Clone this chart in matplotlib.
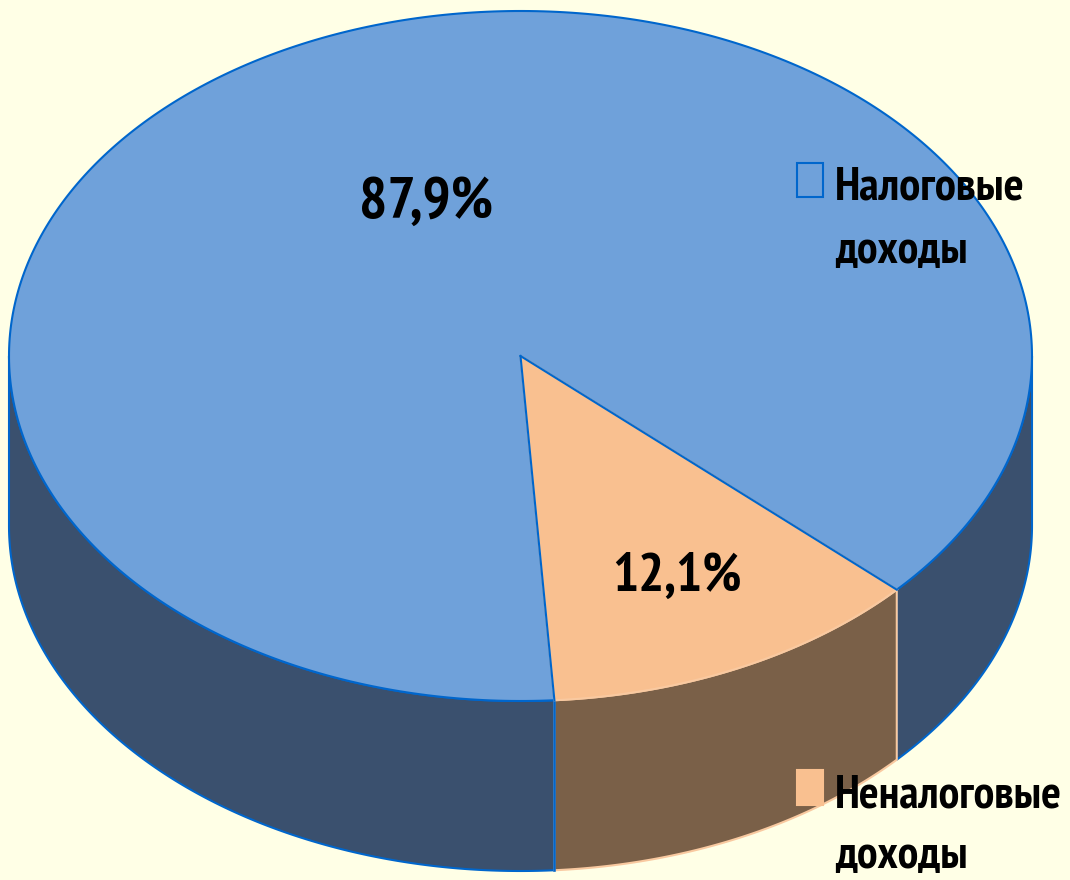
import numpy as np
import matplotlib.pyplot as plt
from matplotlib import font_manager
from matplotlib.ft2font import FT2Font
from matplotlib.patches import Polygon, Rectangle

# data
categories = [['Налоговые', 'доходы'], ['Неналоговые', 'доходы']]
values = [87.9, 12.1]
labels = ['87,9%', '12,1%']

top_colors = ['#6FA1DA', '#F9C090']
side_colors = ['#3A506E', '#7A6048']
edge_colors = ['#0066CC', '#F9C9A0']

# geometry of the 3D pie (pixels)
cx, cy = 520.5, 356.0
a, b = 511.5, 345.0
depth = 170.0
start = -86.2 + 43.56  # blue slice starts where orange ends


# find a bold narrow font that has Cyrillic, else Liberation Sans Bold
def has_glyphs(path, chars):
    try:
        f = FT2Font(path)
        return all(f.get_char_index(ord(c)) != 0 for c in chars)
    except Exception:
        return False


need = set(''.join(labels) + ''.join(sum(categories, [])))
cands = []
for f in font_manager.fontManager.ttflist:
    nm = (f.name + ' ' + f.fname).lower()
    w = f.weight if isinstance(f.weight, int) else 700 if 'bold' in str(f.weight) else 400
    if ('narrow' in nm or 'condensed' in nm) and 600 <= w <= 800 and 'italic' not in nm \
            and f.style == 'normal' and has_glyphs(f.fname, need):
        cands.append((0 if 'narrow' in nm else 1, f.fname))
if cands:
    fprop = dict(fontproperties=font_manager.FontProperties(fname=sorted(cands)[0][1]))
else:
    fprop = dict(family=['Liberation Sans', 'DejaVu Sans'], fontweight='bold')

fig = plt.figure(figsize=(10.7, 8.8), dpi=100)
fig.patch.set_facecolor('#FFFFE6')
ax = fig.add_axes([0, 0, 1, 1])
ax.set_xlim(0, 1070)
ax.set_ylim(880, 0)
ax.axis('off')


def pt(t, dz=0.0):
    r = np.radians(t)
    return cx + a * np.cos(r), cy - b * np.sin(r) + dz


# slice angle spans
spans = []
ang = start
for v in values:
    w = v / sum(values) * 360
    spans.append((ang, ang + w))
    ang += w

# side walls (front half only)
for (t0, t1), sc, ec in zip(spans, side_colors, edge_colors):
    for k in (-1, 0, 1):
        lo = max(t0, -180 + 360 * k)
        hi = min(t1, 0 + 360 * k)
        if hi <= lo:
            continue
        ts = np.linspace(lo, hi, 200)
        topx, topy = pt(ts)
        botx, boty = pt(ts[::-1], depth)
        xs = np.concatenate([topx, botx])
        ys = np.concatenate([topy, boty])
        ax.add_patch(Polygon(np.column_stack([xs, ys]), closed=True,
                             facecolor=sc, edgecolor=ec, lw=1.5, zorder=1))

# blue edge where the left blue wall meets the orange wall
x0, y0 = pt(spans[1][0] % 360 - 360)
ax.plot([x0, x0], [y0, y0 + depth], color='#0066CC', lw=1.8, zorder=1.5)

# top faces
for (t0, t1), tc, ec in zip(spans, top_colors, edge_colors):
    ts = np.linspace(t0, t1, 400)
    xs, ys = pt(ts)
    xs = np.concatenate([[cx], xs])
    ys = np.concatenate([[cy], ys])
    ax.add_patch(Polygon(np.column_stack([xs, ys]), closed=True,
                         facecolor=tc, edgecolor=ec, lw=1.5, zorder=2))

# blue lines on the slice boundaries
for t in spans[1]:
    x1, y1 = pt(t)
    ax.plot([cx, x1], [cy, y1], color='#0066CC', lw=1.5, zorder=3)

renderer = fig.canvas.get_renderer()


def fit_text(x, y, s, width, cap, ha):
    # size the text so it spans about `width` px, capital height at most `cap` px
    t = ax.text(x, y, s, ha=ha, va='baseline', fontsize=40, color='black',
                zorder=5, **fprop)
    wpx = t.get_window_extent(renderer).width
    size = min(40 * width / wpx, cap / 0.72 * 72 / 100)
    t.set_fontsize(size)
    return t


# percentage labels
label_pos = [(426, 218), (677, 591)]
label_w = [134, 130]
for (lx, ly), lab, w in zip(label_pos, labels, label_w):
    fit_text(lx, ly, lab, w, 55, 'center')

# legend
ax.add_patch(Rectangle((797, 163), 26, 34, facecolor='none',
                       edgecolor='#0066CC', lw=1.5, zorder=5))
ax.add_patch(Rectangle((797, 770), 26, 35, facecolor='#F9C090',
                       edgecolor='#F9C090', lw=1.5, zorder=5))
leg_base = [(200, 263), (807, 868)]
leg_w = [(190, 133), (227, 133)]
for (y1, y2), cat, (w1, w2) in zip(leg_base, categories, leg_w):
    fit_text(835, y1, cat[0], w1, 38, 'left')
    fit_text(835, y2, cat[1], w2, 38, 'left')

fig.savefig('out.png', dpi=100, facecolor=fig.get_facecolor())
